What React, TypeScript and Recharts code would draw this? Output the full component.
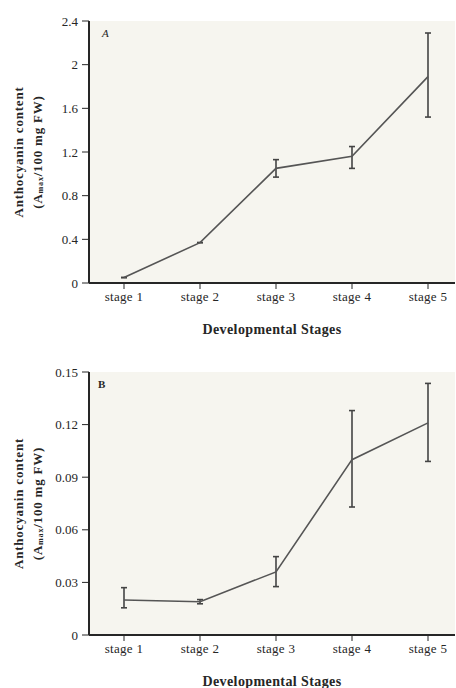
import React from 'react';
import { LineChart, Line, XAxis, YAxis, ErrorBar, CartesianGrid, Label } from 'recharts';

// Developmental stages shared by both panels
const stages = ['stage 1', 'stage 2', 'stage 3', 'stage 4', 'stage 5'];

// Panel A: anthocyanin content, mean with lower/upper bounds
const meanA = [0.05, 0.37, 1.05, 1.16, 1.89];
const lowA = [0.05, 0.37, 0.97, 1.05, 1.52];
const highA = [0.05, 0.37, 1.13, 1.25, 2.29];
const ticksA = [0, 0.4, 0.8, 1.2, 1.6, 2, 2.4];

// Panel B: anthocyanin content, mean with lower/upper bounds
const meanB = [0.02, 0.019, 0.036, 0.1, 0.121];
const lowB = [0.0155, 0.0178, 0.0276, 0.073, 0.099];
const highB = [0.027, 0.0202, 0.0447, 0.128, 0.1435];
const ticksB = [0, 0.03, 0.06, 0.09, 0.12, 0.15];

const FONT = '"Liberation Serif", "DejaVu Serif", serif';
const INK = '#262626';

function buildRows(mean: number[], low: number[], high: number[]) {
  return stages.map((s, i) => ({
    stage: s,
    value: mean[i],
    err: [mean[i] - low[i], high[i] - mean[i]],
  }));
}

const rowsA = buildRows(meanA, lowA, highA);
const rowsB = buildRows(meanB, lowB, highB);

function YTitle(props: any) {
  const vb = props.viewBox || {};
  const cy = vb.y + vb.height / 2;
  const x1 = 18;
  const x2 = 37;
  return (
    <g fontFamily={FONT} fontWeight="bold" fontSize={13} fill={INK} letterSpacing={0.8}>
      <text x={x1} y={cy} transform={`rotate(-90 ${x1} ${cy})`} textAnchor="middle" dominantBaseline="central">
        Anthocyanin content
      </text>
      <text x={x2} y={cy} transform={`rotate(-90 ${x2} ${cy})`} textAnchor="middle" dominantBaseline="central">
        (A<tspan fontSize={8} dy={3}>max</tspan>
        <tspan dy={-3}>/100 mg FW)</tspan>
      </text>
    </g>
  );
}

function Panel(props: {
  rows: any[];
  ticks: number[];
  max: number;
  height: number;
  top: number;
  bottom: number;
  titleOffset: number;
  letter: string;
  letterBold: boolean;
  fmt: (v: number) => string;
}) {
  const { rows, ticks, max, height, top, bottom, titleOffset, letter, letterBold, fmt } = props;
  return (
    <div style={{ position: 'relative', width: 456, height }}>
      <LineChart
        width={456}
        height={height}
        data={rows}
        margin={{ top, right: 1, left: 0, bottom: 0 }}
      >
        <CartesianGrid horizontal={false} vertical={false} fill="#f6f5ef" />
        <XAxis
          dataKey="stage"
          xAxisId="main"
          height={bottom}
          padding={{ left: 35, right: 27 }}
          tickSize={6}
          tickMargin={3}
          axisLine={{ stroke: INK, strokeWidth: 2 }}
          tickLine={{ stroke: INK, strokeWidth: 1 }}
          tick={{ fontFamily: FONT, fontSize: 13, fill: INK, letterSpacing: 0.3 }}
        >
          <Label
            value="Developmental Stages"
            position="insideBottom"
            offset={titleOffset}
            style={{ fontFamily: FONT, fontWeight: 'bold', fontSize: 14, fill: INK, letterSpacing: 0.4 }}
          />
        </XAxis>
        <XAxis
          dataKey="stage"
          xAxisId="top"
          orientation="top"
          height={0}
          tick={false}
          tickLine={false}
          axisLine={{ stroke: INK, strokeWidth: 2 }}
        />
        <YAxis
          yAxisId="main"
          type="number"
          domain={[0, max]}
          ticks={ticks}
          width={89}
          tickSize={7}
          tickMargin={4}
          tickFormatter={fmt}
          axisLine={{ stroke: INK, strokeWidth: 2 }}
          tickLine={{ stroke: INK, strokeWidth: 1 }}
          tick={{ fontFamily: FONT, fontSize: 13, fill: INK }}
        >
          <Label content={<YTitle />} />
        </YAxis>
        <YAxis
          yAxisId="right"
          orientation="right"
          width={0}
          domain={[0, max]}
          tick={false}
          tickLine={false}
          axisLine={{ stroke: '#888', strokeWidth: 1 }}
        />
        <Line
          xAxisId="main"
          yAxisId="main"
          dataKey="value"
          stroke="#555"
          strokeWidth={1.6}
          dot={false}
          isAnimationActive={false}
        >
          <ErrorBar dataKey="err" direction="y" width={3} stroke="#444" strokeWidth={1.6} />
        </Line>
      </LineChart>
      <div
        style={{
          position: 'absolute',
          left: letterBold ? 98 : 102,
          top: top + 7,
          fontFamily: FONT,
          fontStyle: letterBold ? 'normal' : 'italic',
          fontWeight: letterBold ? 'bold' : 'normal',
          fontSize: 11,
          color: INK,
          lineHeight: '11px',
        }}
      >
        {letter}
      </div>
    </div>
  );
}

const fmtA = (v: number) => (v === 0 ? '0' : String(Number(v.toFixed(1))));
const fmtB = (v: number) => (v === 0 ? '0' : v.toFixed(2));

export default function App() {
  return (
    <div style={{ position: 'absolute', left: 0, top: 0, width: 456, height: 688, background: '#fff' }}>
      <div style={{ position: 'absolute', left: 0, top: 0 }}>
        <Panel
          rows={rowsA}
          ticks={ticksA}
          max={2.4}
          height={340}
          top={21}
          bottom={57}
          titleOffset={6}
          letter="A"
          letterBold={false}
          fmt={fmtA}
        />
      </div>
      <div style={{ position: 'absolute', left: 0, top: 340 }}>
        <Panel
          rows={rowsB}
          ticks={ticksB}
          max={0.15}
          height={348}
          top={32}
          bottom={53}
          titleOffset={2}
          letter="B"
          letterBold={true}
          fmt={fmtB}
        />
      </div>
    </div>
  );
}
